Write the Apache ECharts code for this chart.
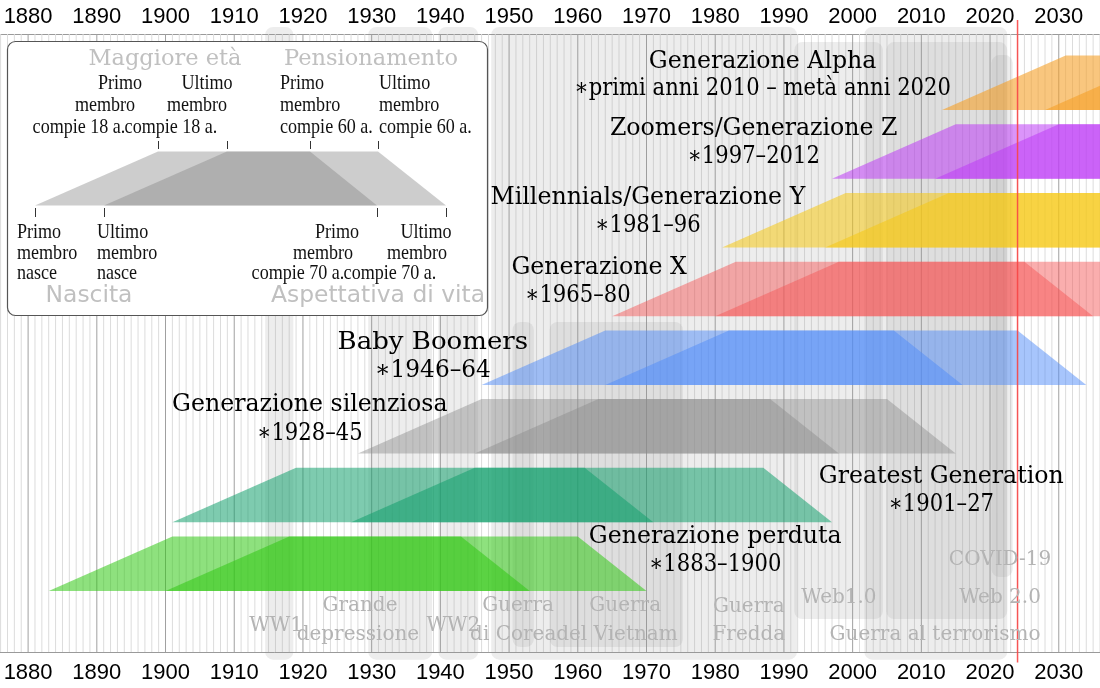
<!DOCTYPE html>
<html><head><meta charset="utf-8">
<script src="https://cdn.jsdelivr.net/npm/echarts@6/dist/echarts.min.js"></script>
<style>html,body{margin:0;padding:0;background:#fff}#c{width:1100px;height:688px}</style>
</head><body><div id="c"></div>
<script>
// ---- axis ----
const yearTicks = [1880,1890,1900,1910,1920,1930,1940,1950,1960,1970,1980,1990,2000,2010,2020,2030];
const xMin = 1875.91, xMax = 2036.0;
const yMin = -0.888, yMax = 8.107;
const currentYear = 2024;

// ---- generations (index 0 = bottom band) ----
const generations = ['Generazione perduta','Greatest Generation','Generazione silenziosa','Baby Boomers','Generazione X','Millennials/Generazione Y','Zoomers/Generazione Z','Generazione Alpha'];
const birthLabels = ['\u22171883\u20131900','\u22171901\u201327','\u22171928\u201345','\u22171946\u201364','\u22171965\u201380','\u22171981\u201396','\u22171997\u20132012','\u2217primi anni 2010 \u2013 met\u00e0 anni 2020'];
const firstBorn = [1883,1901,1928,1946,1965,1981,1997,2013];
const lastBorn  = [1900,1927,1945,1964,1980,1996,2012,2028];
const ageAdult = 18, ageRetire = 60, ageLife = 70;
const genColors = ['rgba(50,200,20,0.55)','rgba(20,160,110,0.55)','rgba(140,140,140,0.45)','rgba(80,140,250,0.5)','rgba(245,85,85,0.48)','rgba(245,200,20,0.55)','rgba(190,60,245,0.55)','rgba(245,160,40,0.6)'];
// label anchors (year, band value)
const titleX = [1980.0,2012.9,1921.0,1938.9,1963.1,1970.2,1985.6,1986.9];
const titleY = [0.786,1.659,2.707,3.609,4.701,5.720,6.724,7.699];
const subX   = [1980.0,2012.9,1921.0,1938.9,1960.0,1970.2,1985.6,1986.9];
const subY   = [0.378,1.252,2.285,3.202,4.293,5.312,6.316,7.306];
const labelStretch = [1,1,1,1.1,1,1,1,1];

// ---- historical events ----
const events     = ['WW1','Grande depressione','WW2','Guerra di Corea','Guerra Fredda','Guerra del Vietnam','Web1.0','Guerra al terrorismo','Web 2.0','COVID-19'];
const eventStart = [1914.5,1929.5,1939.7,1950.5,1947.4,1955.9,1991.5,2001.7,2004.9,2020.2];
const eventEnd   = [1918.6,1938.8,1945.5,1953.6,1991.9,1975.3,2004.4,2022.5,2022.5,2023.3];
const eventTop   = [8.21,8.21,8.21,3.915,8.21,3.915,7.99,8.21,7.99,7.80];
const eventBot   = [-1.0,-1.0,-1.0,-0.815,-1.0,-0.815,-0.408,-1.0,-0.408,0.204];
const eventLabelText = ['WW1','Grande','depressione','WW2','Guerra','di Corea','Guerra','del Vietnam','Guerra','Fredda','Web1.0','Guerra al terrorismo','Web 2.0','COVID-19'];
const eventLabelX = [1916.1,1928.3,1928.0,1941.9,1951.3,1950.6,1966.9,1965.7,1984.9,1984.9,1998.0,2012.0,2021.45,2021.45];
const eventLabelY = [-0.509,-0.218,-0.640,-0.509,-0.218,-0.640,-0.218,-0.640,-0.233,-0.640,-0.102,-0.640,-0.102,0.451];

const gridYears = [];
for (let y = 1876; y <= 2036; y++) gridYears.push(y);

const chart = echarts.init(document.getElementById('c'), null, {renderer:'canvas'});

function xAxisDef(pos, margin){
  return {type:'value', position:pos, min:xMin, max:xMax,
    axisLine:{show:true, onZero:false, lineStyle:{color:'#9a9a9a', width:1}},
    axisTick:{show:false}, splitLine:{show:false},
    axisLabel:{customValues:yearTicks, fontSize:22, fontFamily:'Liberation Sans', color:'#000', margin:margin, formatter: v => String(Math.round(v))}};
}

const bandH = 0.793;

chart.setOption({
  animation:false,
  grid:{left:0, right:0, top:34, bottom:36, containLabel:false},
  xAxis:[xAxisDef('bottom',10), xAxisDef('top',6)],
  yAxis:{type:'value', min:yMin, max:yMax, show:false},
  series:[
    { // grid lines
      type:'custom', z:1, silent:true,
      data: gridYears.map(y => [y]),
      renderItem(params, api){
        const y = api.value(0);
        const p1 = api.coord([y, yMax]), p2 = api.coord([y, yMin]);
        const major = y % 10 === 0;
        return {type:'line', shape:{x1:p1[0], y1:p1[1], x2:p2[0], y2:p2[1]},
          style:{stroke: major ? '#a0a0a0' : '#dcdcdc', lineWidth:1}};
      }
    },
    { // event backgrounds
      type:'custom', z:2, silent:true,
      data: events.map((e,i) => [eventStart[i], eventEnd[i], eventTop[i], eventBot[i]]),
      renderItem(params, api){
        const a = api.coord([api.value(0), api.value(2)]);
        const b = api.coord([api.value(1), api.value(3)]);
        return {type:'rect', shape:{x:a[0], y:a[1], width:b[0]-a[0], height:b[1]-a[1], r:8},
          style:{fill:'rgba(150,150,150,0.17)'}};
      }
    },
    { // generation trapezoids
      type:'custom', z:3, silent:true,
      data: generations.map((g,i) => [firstBorn[i], lastBorn[i], i]),
      renderItem(params, api){
        const i = params.dataIndex;
        const b1 = api.value(0), b2 = api.value(1), idx = api.value(2);
        const bot = idx, top = idx + bandH;
        const trap = b => [api.coord([b, bot]), api.coord([b+ageAdult, top]), api.coord([b+ageRetire, top]), api.coord([b+ageLife, bot])];
        return {type:'group', children:[
          {type:'polygon', shape:{points:trap(b1)}, style:{fill:genColors[i]}},
          {type:'polygon', shape:{points:trap(b2)}, style:{fill:genColors[i]}}
        ]};
      }
    },
    { // current year line
      type:'custom', z:4, silent:true,
      data:[[currentYear]],
      renderItem(params, api){
        const p1 = api.coord([api.value(0), 8.31]), p2 = api.coord([api.value(0), -1.04]);
        return {type:'line', shape:{x1:p1[0], y1:p1[1], x2:p2[0], y2:p2[1]}, style:{stroke:'rgba(250,70,70,0.9)', lineWidth:1.5}};
      }
    },
    { // event labels
      type:'custom', z:5, silent:true,
      data: eventLabelText.map((t,i) => [eventLabelX[i], eventLabelY[i]]),
      renderItem(params, api){
        const p = api.coord([api.value(0), api.value(1)]);
        return {type:'text', x:p[0], y:p[1], style:{text:eventLabelText[params.dataIndex], font:'20px "DejaVu Serif"', fill:'#b4b4b4', align:'center', verticalAlign:'middle'}};
      }
    },
    { // generation labels
      type:'custom', z:6, silent:true,
      data: generations.map((g,i) => [titleX[i], titleY[i], subX[i], subY[i]]),
      renderItem(params, api){
        const i = params.dataIndex;
        const p = api.coord([api.value(0), api.value(1)]);
        const q = api.coord([api.value(2), api.value(3)]);
        const s = labelStretch[i];
        return {type:'group', children:[
          {type:'text', x:p[0], y:p[1], scaleX:0.985*s, style:{text:generations[i], font:'24px "DejaVu Serif"', fill:'#000', align:'center', verticalAlign:'middle'}},
          {type:'text', x:q[0], y:q[1], scaleX:0.88*s, style:{text:birthLabels[i], font:'24px "DejaVu Serif"', fill:'#000', align:'center', verticalAlign:'middle'}}
        ]};
      }
    }
  ],
  graphic: buildInset()
});

function buildInset(){
  const els = [];
  els.push({type:'rect', shape:{x:7.5, y:41.5, width:480, height:274, r:8}, style:{fill:'#fff', stroke:'#555', lineWidth:1.2}, z:100});
  const tg = 'rgba(130,130,130,0.4)';
  els.push({type:'polygon', shape:{points:[[35,205.5],[158,151.5],[310,151.5],[377,205.5]]}, style:{fill:tg}, z:101});
  els.push({type:'polygon', shape:{points:[[104,205.5],[227,151.5],[378,151.5],[446,205.5]]}, style:{fill:tg}, z:101});
  [158,227,310,378].forEach(x => els.push({type:'line', shape:{x1:x+0.5,y1:141,x2:x+0.5,y2:149}, style:{stroke:'#333', lineWidth:1}, z:101}));
  [35,104,377,446].forEach(x => els.push({type:'line', shape:{x1:x+0.5,y1:208,x2:x+0.5,y2:217}, style:{stroke:'#333', lineWidth:1}, z:101}));
  const head = (t,x,y,fam,sz) => els.push({type:'text', x:x, y:y, z:102, style:{text:t, font:sz+'px "'+fam+'"', fill:'#c0c0c0', align:'center', verticalAlign:'middle'}});
  head('Maggiore et\u00e0',165,59,'DejaVu Serif',22.5);
  head('Pensionamento',371,59,'DejaVu Serif',22.5);
  head('Nascita',89,296,'DejaVu Sans',23.4);
  head('Aspettativa di vita',378,296,'DejaVu Sans',23.4);
  const t = (s,x,y,al) => els.push({type:'text', x:x, y:y, scaleX:0.86, z:102, style:{text:s, font:'21px "Liberation Serif"', fill:'#111', align:al, verticalAlign:'middle'}});
  // top labels
  t('Primo',120,83,'center'); t('membro',105,105,'center'); t('compie 18 a.',79,127,'center');
  t('Ultimo',207,83,'center'); t('membro',197,105,'center'); t('compie 18 a.',171,127,'center');
  t('Primo',280,83,'left'); t('membro',280,105,'left'); t('compie 60 a.',280,127,'left');
  t('Ultimo',379,83,'left'); t('membro',379,105,'left'); t('compie 60 a.',379,127,'left');
  // bottom labels
  t('Primo',17,232,'left'); t('membro',17,253,'left'); t('nasce',17,273,'left');
  t('Ultimo',97,232,'left'); t('membro',97,253,'left'); t('nasce',97,273,'left');
  t('Primo',337,232,'center'); t('membro',323,253,'center'); t('compie 70 a.',298,273,'center');
  t('Ultimo',426,232,'center'); t('membro',417,253,'center'); t('compie 70 a.',390,273,'center');
  return els;
}
</script></body></html>
